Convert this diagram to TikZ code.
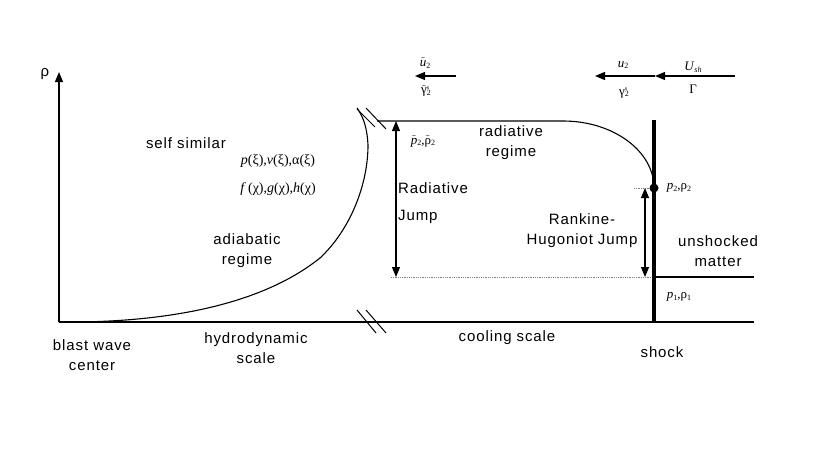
\documentclass[tikz,border=0pt]{standalone}
\usepackage{fontspec}
\setmainfont{Liberation Sans}[LetterSpace=6.0]
\newfontfamily\srf{Liberation Serif}
\usetikzlibrary{arrows.meta}
\newcommand\sbs[1]{\raisebox{-0.3ex}{\fontsize{8}{8}\selectfont #1}}
\newcommand\sps[1]{\raisebox{0.7ex}{\fontsize{6}{6}\selectfont #1}}
\newcommand\ssp[2]{\rlap{\sps{#1}}\sbs{#2}}
\newcommand\tld[1]{\ensuremath{\tilde{\hbox{#1}}}}
\tikzset{
  lbl/.style={font=\fontsize{15}{20}\selectfont, inner sep=0pt, align=center},
  mth/.style={font=\srf\fontsize{14}{16}\selectfont, inner sep=0pt},
  mths/.style={font=\srf\fontsize{13}{15}\selectfont, inner sep=0pt},
  ln/.style={line width=1.1pt},
  tip/.style={-{Triangle[length=10pt,width=8pt]}},
  dtip/.style={{Triangle[length=10pt,width=8pt]}-{Triangle[length=10pt,width=8pt]}},
  dots/.style={densely dotted, gray, line width=0.8pt},
  slash/.style={line width=1pt},
}
\begin{document}
\begin{tikzpicture}[x=1pt,y=-1pt]
\useasboundingbox (0,0) rectangle (830,463);
% coordinates
\coordinate (O) at (59,322);
\coordinate (Ytop) at (59,72);
\coordinate (Bend) at (754,322);
\coordinate (Rtop) at (377,121);
\coordinate (Rbend) at (563,121);
\coordinate (P2) at (654,188);
\coordinate (Stop) at (654,120);
\coordinate (Sbot) at (654,323);
\coordinate (U1) at (654,277);
\coordinate (U1end) at (754,277);
\coordinate (RJt) at (396,121);
\coordinate (RJb) at (396,277);
\coordinate (DL) at (391,277);
\coordinate (DP) at (634,188);
\coordinate (RHt) at (645,188);
\coordinate (RHb) at (645,277);
% axes
\draw[ln,tip] (O) -- (Ytop);
\draw[ln] (O) -- (Bend);
% adiabatic curve
\draw[ln] (O) .. controls (150,323) and (255,310) .. (320,258)
  .. controls (350,230) and (368,185) .. (368,145)
  .. controls (367,125) and (362,115) .. (357,108);
% radiative curve
\draw[ln] (Rtop) -- (Rbend) arc[start angle=90,end angle=0,x radius=91,y radius=-67];
% slashes
\draw[slash] (357,109) -- (375,127);
\draw[slash] (366,108) -- (386,129);
\draw[slash] (357,310) -- (376,333);
\draw[slash] (366,310) -- (386,333);
% dotted guides
\draw[dots] (DL) -- (U1);
\draw[dots] (DP) -- (P2);
% jumps
\draw[ln,dtip] (RJb) -- (RJt);
\draw[ln,dtip] (RHb) -- (RHt);
% shock
\draw[line width=3.5pt] (Stop) -- (Sbot);
\draw[ln] (U1) -- (U1end);
\fill (P2) circle[radius=4.5pt];
% top arrows
\coordinate (A1s) at (735,76); \coordinate (A1e) at (655,76);
\coordinate (A2e) at (595,76);
\coordinate (A3s) at (456,76); \coordinate (A3e) at (415,76);
\draw[ln,tip] (A1s) -- (A1e);
\draw[ln,tip] (A1e) -- (A2e);
\draw[ln,tip] (A3s) -- (A3e);
% labels
\node[lbl] (rho) at (45,74) {ρ};
\node[lbl] (ss) at (186,143) {self similar};
\node[mth] (pxi) at (278,161) {\textit{p}(ξ),\textit{v}(ξ),α(ξ)};
\node[mth] (fchi) at (278,189) {\textit{f}\,(χ),\textit{g}(χ),\textit{h}(χ)};
\node[lbl] (adia) at (247,251) {adiabatic\\regime};
\node[lbl] (radr) at (511,143) {radiative\\regime};
\node[mths] (pt2) at (423,141) {\tld{\textit{p}}\sbs{2},\tld{ρ}\sbs{2}};
\node[lbl,anchor=west,align=left,font=\fontsize{15}{27}\selectfont] (radj) at (398,203) {Radiative\\Jump};
\node[lbl] (rh) at (582,231) {Rankine-\\Hugoniot Jump};
\node[lbl] (unsh) at (718,251) {unshocked\\matter};
\node[mths] (p2l) at (679,188) {\textit{p}\sbs{2},ρ\sbs{2}};
\node[mths] (p1l) at (679,297) {\textit{p}\sbs{1},ρ\sbs{1}};
\node[lbl] (bwc) at (92,355) {blast wave\\center};
\node[lbl] (hyd) at (256,348) {hydrodynamic\\scale};
\node[lbl] (cool) at (507,338) {cooling scale};
\node[lbl] (shock) at (662,352) {shock};
\node[mths] (ut2) at (425,63) {\tld{\textit{u}}\sbs{2}};
\node[mths] (gt2) at (426,91) {\tld{γ}\ssp{s}{2}};
\node[mths] (u2) at (623,65) {\textit{u}\sbs{2}};
\node[mths] (g2) at (624,93) {γ\ssp{s}{2}};
\node[mths] (ush) at (693,67) {\textit{U}\sbs{\textit{sh}}};
\node[mths] (gam) at (693,89) {Γ};
\end{tikzpicture}
\end{document}
